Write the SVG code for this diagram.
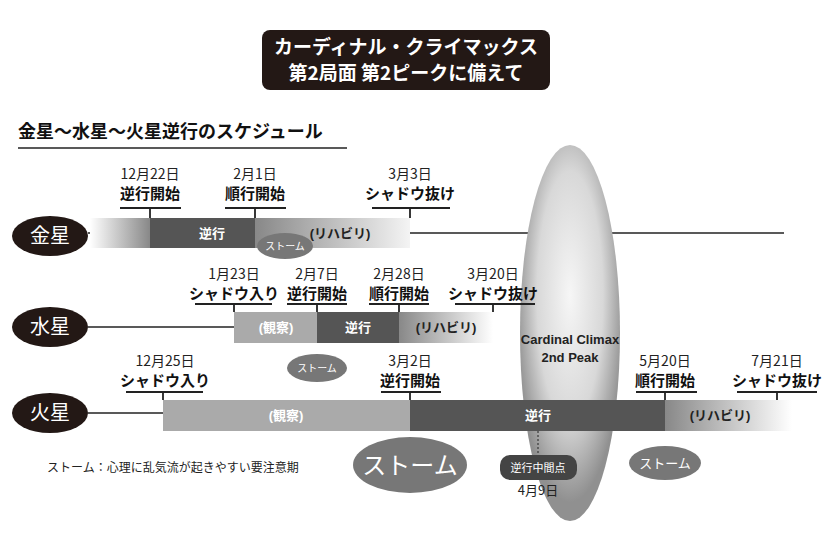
<svg xmlns="http://www.w3.org/2000/svg" width="830" height="550" viewBox="0 0 830 550">
<style>
.s{font-family:"Noto Sans CJK JP","Liberation Serif",serif}
.g{font-family:"Liberation Sans","Noto Sans CJK JP",sans-serif}
.d{font-size:14px;text-anchor:middle;fill:#222}
.lb{font-size:15px;text-anchor:middle;fill:#111;font-weight:bold}
.bt{font-size:13px;text-anchor:middle;font-weight:bold}
.ln{stroke:#222;stroke-width:1.5;fill:none}
.ul{stroke:#222;stroke-width:1.8}
.pl{fill:#fff;font-size:20px;text-anchor:middle}
.st{fill:#777}
.stt{fill:#fff;text-anchor:middle}
</style>
<defs>
<linearGradient id="fadeIn" x1="0" x2="1"><stop offset="0" stop-color="#fff"/><stop offset="1" stop-color="#888"/></linearGradient>
<linearGradient id="fadeOut" x1="0" x2="1"><stop offset="0" stop-color="#888"/><stop offset="1" stop-color="#f4f4f4"/></linearGradient>
<linearGradient id="fadeOut2" x1="0" x2="1"><stop offset="0" stop-color="#888"/><stop offset="1" stop-color="#fff"/></linearGradient>
<radialGradient id="cc" cx="0.5" cy="0.4" r="0.55"><stop offset="0" stop-color="#f6f6f6"/><stop offset="0.6" stop-color="#d8d8d8"/><stop offset="1" stop-color="#909090"/></radialGradient>
</defs>
<rect x="262" y="30" width="288" height="60" rx="8" fill="#231815"/>
<text class="s" x="406" y="54" font-size="19" font-weight="bold" fill="#fff" text-anchor="middle">カーディナル・クライマックス</text>
<text class="s" x="406" y="80" font-size="19" font-weight="bold" fill="#fff" text-anchor="middle">第2局面 第2ピークに備えて</text>
<text class="g" x="18" y="138" font-size="18" font-weight="bold" fill="#111">金星〜水星〜火星逆行のスケジュール</text>
<line x1="18" y1="148" x2="347" y2="148" stroke="#222" stroke-width="1.5"/>
<g id="connectors">
<line class="ln" x1="88" y1="233" x2="784" y2="233"/>
<line class="ln" x1="88" y1="327" x2="234" y2="327"/>
<line class="ln" x1="88" y1="413" x2="163" y2="413"/>
</g>
<ellipse id="climax" cx="570" cy="333" rx="50" ry="188" fill="url(#cc)"/>
<g id="venus">
<ellipse cx="50" cy="236" rx="38" ry="20" fill="#231815"/>
<text class="s pl" x="50" y="243">金星</text>
<rect x="90" y="218" width="60" height="30" fill="url(#fadeIn)"/>
<rect x="150" y="218" width="105" height="30" fill="#555"/>
<rect x="255" y="218" width="155" height="30" fill="url(#fadeOut)"/>
<text class="g bt" x="212" y="238" fill="#fff">逆行</text>
<text class="g bt" x="340" y="238" fill="#222">(リハビリ)</text>
<g class="s"><text class="d" x="150" y="179">12月22日</text><text class="lb" x="150" y="199">逆行開始</text></g>
<line class="ul" x1="120" y1="208" x2="181" y2="208"/><line class="ul" x1="150" y1="208" x2="150" y2="218"/>
<g class="s"><text class="d" x="255" y="179">2月1日</text><text class="lb" x="255" y="199">順行開始</text></g>
<line class="ul" x1="225" y1="208" x2="286" y2="208"/><line class="ul" x1="255" y1="208" x2="255" y2="218"/>
<g class="s"><text class="d" x="410" y="179">3月3日</text><text class="lb" x="410" y="199">シャドウ抜け</text></g>
<line class="ul" x1="372" y1="208" x2="450" y2="208"/><line class="ul" x1="410" y1="208" x2="410" y2="218"/>
<ellipse class="st" cx="285" cy="246" rx="28" ry="13"/><text class="g stt" x="285" y="250" font-size="10">ストーム</text>
</g>
<g id="mercury">
<ellipse cx="50" cy="327" rx="38" ry="20" fill="#231815"/>
<text class="s pl" x="50" y="334">水星</text>
<rect x="234" y="312" width="83" height="31" fill="#aaa"/>
<rect x="317" y="312" width="82" height="31" fill="#555"/>
<rect x="399" y="312" width="94" height="31" fill="url(#fadeOut2)"/>
<text class="g bt" x="276" y="332" fill="#fff">(観察)</text>
<text class="g bt" x="358" y="332" fill="#fff">逆行</text>
<text class="g bt" x="446" y="332" fill="#222">(リハビリ)</text>
<g class="s"><text class="d" x="234" y="279">1月23日</text><text class="lb" x="234" y="299">シャドウ入り</text></g>
<line class="ul" x1="195" y1="304" x2="272" y2="304"/><line class="ul" x1="234" y1="304" x2="234" y2="312"/>
<g class="s"><text class="d" x="317" y="279">2月7日</text><text class="lb" x="317" y="299">逆行開始</text></g>
<line class="ul" x1="287" y1="304" x2="347" y2="304"/><line class="ul" x1="317" y1="304" x2="317" y2="312"/>
<g class="s"><text class="d" x="399" y="279">2月28日</text><text class="lb" x="399" y="299">順行開始</text></g>
<line class="ul" x1="369" y1="304" x2="429" y2="304"/><line class="ul" x1="399" y1="304" x2="399" y2="312"/>
<g class="s"><text class="d" x="493" y="279">3月20日</text><text class="lb" x="493" y="299">シャドウ抜け</text></g>
<line class="ul" x1="455" y1="304" x2="535" y2="304"/><line class="ul" x1="493" y1="304" x2="493" y2="312"/>
<ellipse class="st" cx="317" cy="368" rx="30" ry="14"/><text class="g stt" x="317" y="372" font-size="10">ストーム</text>
</g>
<g id="mars">
<ellipse cx="50" cy="413" rx="38" ry="20" fill="#231815"/>
<text class="s pl" x="50" y="420">火星</text>
<rect x="163" y="400" width="247" height="31" fill="#aaa"/>
<rect x="410" y="400" width="255" height="31" fill="#555"/>
<rect x="665" y="400" width="127" height="31" fill="url(#fadeOut2)"/>
<text class="g bt" x="286" y="420" fill="#fff">(観察)</text>
<text class="g bt" x="538" y="420" fill="#fff">逆行</text>
<text class="g bt" x="720" y="420" fill="#222">(リハビリ)</text>
<g class="s"><text class="d" x="165" y="366">12月25日</text><text class="lb" x="165" y="386">シャドウ入り</text></g>
<line class="ul" x1="126" y1="392" x2="203" y2="392"/><line class="ul" x1="163" y1="392" x2="163" y2="400"/>
<g class="s"><text class="d" x="410" y="366">3月2日</text><text class="lb" x="410" y="386">逆行開始</text></g>
<line class="ul" x1="381" y1="392" x2="441" y2="392"/><line class="ul" x1="410" y1="392" x2="410" y2="400"/>
<g class="s"><text class="d" x="665" y="366">5月20日</text><text class="lb" x="665" y="386">順行開始</text></g>
<line class="ul" x1="636" y1="392" x2="697" y2="392"/><line class="ul" x1="665" y1="392" x2="665" y2="400"/>
<g class="s"><text class="d" x="777" y="366">7月21日</text><text class="lb" x="777" y="386">シャドウ抜け</text></g>
<line class="ul" x1="737" y1="392" x2="817" y2="392"/><line class="ul" x1="777" y1="392" x2="777" y2="400"/>
</g>
<text class="g" x="570" y="344" font-size="13" font-weight="bold" fill="#222" text-anchor="middle">Cardinal Climax</text>
<text class="g" x="570" y="362" font-size="13" font-weight="bold" fill="#222" text-anchor="middle">2nd Peak</text>
<g id="midpoint">
<line x1="538" y1="431" x2="538" y2="456" stroke="#222" stroke-dasharray="2,2"/>
<rect x="500" y="455" width="77" height="25" rx="10" fill="#444"/>
<text class="g" x="538" y="472" font-size="11" fill="#fff" text-anchor="middle">逆行中間点</text>
<text class="s" x="538" y="495" font-size="13" fill="#222" text-anchor="middle">4月9日</text>
</g>
<g id="storms">
<ellipse class="st" cx="410" cy="465" rx="57" ry="28"/><text class="g stt" x="410" y="474" font-size="24">ストーム</text>
<ellipse class="st" cx="665" cy="463" rx="36" ry="17"/><text class="g stt" x="665" y="468" font-size="13">ストーム</text>
</g>
<text class="g" x="47" y="472" font-size="12" fill="#222">ストーム：心理に乱気流が起きやすい要注意期</text>
</svg>
